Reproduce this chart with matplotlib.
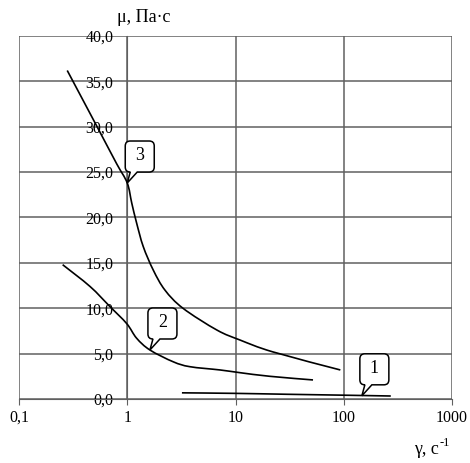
import matplotlib
matplotlib.use("Agg")
import matplotlib.pyplot as plt
import numpy as np
from matplotlib.path import Path
from matplotlib.patches import PathPatch
from matplotlib.transforms import Affine2D

plt.rcParams['font.family'] = ['Liberation Serif', 'DejaVu Serif']

# curve 1
g1 = [3.2, 10, 30, 100, 272]
mu1 = [0.68, 0.62, 0.52, 0.42, 0.33]
# curve 2
g2 = [0.253, 0.453, 0.69, 0.99, 1.22, 1.62, 2.66, 3.79, 7.2, 11, 20.8, 52]
mu2 = [14.8, 12.4, 10.2, 8.3, 6.7, 5.4, 4.1, 3.56, 3.2, 2.9, 2.5, 2.1]
# curve 3
g3 = [0.279, 0.56, 0.8, 1.0, 1.1, 1.22, 1.405, 1.74, 2.23, 3.27, 6.73, 11, 22, 93]
mu3 = [36.2, 29.4, 25.9, 23.8, 21.6, 19.4, 16.8, 14.2, 12.0, 10.0, 7.6, 6.5, 5.2, 3.2]

labels = ['1', '2', '3']
tips = [(147, 0.35), (1.62, 5.4), (1.0, 23.8)]

xticks = [0.1, 1, 10, 100, 1000]
xticklabels = ['0,1', '1', '10', '100', '1000']
yticks = [0, 5, 10, 15, 20, 25, 30, 35, 40]


def smooth_path(g, m):
    # Excel-like smoothed line: Catmull-Rom bezier in (log x, y)
    p = np.column_stack([np.log10(g), m])
    ext = np.vstack([p[0], p, p[-1]])
    verts = [p[0]]
    codes = [Path.MOVETO]
    for i in range(1, len(ext) - 2):
        p0, p1, p2, p3 = ext[i - 1], ext[i], ext[i + 1], ext[i + 2]
        c1 = p1 + (p2 - p0) / 6
        c2 = p2 - (p3 - p1) / 6
        verts += [c1, c2, p2]
        codes += [Path.CURVE4] * 3
    verts = np.array(verts)
    verts[:, 0] = 10 ** verts[:, 0]
    return Path(verts, codes)


def callout(fig, ax, tip, text):
    px, py = ax.transData.transform(tip)
    x0, y0, w, h, r = -2, 11, 29, 31, 5
    v = [(x0 + r, y0), (3, y0), (0, 0), (10, y0), (x0 + w - r, y0),
         (x0 + w, y0), (x0 + w, y0 + r), (x0 + w, y0 + h - r),
         (x0 + w, y0 + h), (x0 + w - r, y0 + h), (x0 + r, y0 + h),
         (x0, y0 + h), (x0, y0 + h - r), (x0, y0 + r),
         (x0, y0), (x0 + r, y0), (x0 + r, y0)]
    c = [Path.MOVETO, Path.LINETO, Path.LINETO, Path.LINETO, Path.LINETO,
         Path.CURVE3, Path.CURVE3, Path.LINETO,
         Path.CURVE3, Path.CURVE3, Path.LINETO,
         Path.CURVE3, Path.CURVE3, Path.LINETO,
         Path.CURVE3, Path.CURVE3, Path.CLOSEPOLY]
    tr = Affine2D().translate(px, py)
    fig.add_artist(PathPatch(Path(v, c), fc='white', ec='black', lw=1.1,
                             transform=tr, zorder=5))
    fig.text(x0 + w / 2, y0 + h / 2 + 1, text, fontsize=13, ha='center',
             va='center', transform=tr, zorder=6)


fig = plt.figure(figsize=(4.70, 4.63), dpi=100)
ax = fig.add_axes([19/470, 1 - 399/463, 433/470, 363/463])

ax.set_xscale('log')
ax.set_xlim(0.1, 1000)
ax.set_ylim(0, 40)

for g, m in [(g1, mu1), (g2, mu2), (g3, mu3)]:
    ax.add_patch(PathPatch(smooth_path(g, m), fc='none', ec='black', lw=1.2,
                           zorder=3, transform=ax.transData))

ax.set_xticks(xticks)
ax.set_xticklabels(xticklabels)
ax.minorticks_off()
ax.set_yticks(yticks)
ax.set_yticklabels([('%.1f' % v).replace('.', ',') for v in yticks])

ax.grid(True, color='#606060', lw=1.1, zorder=1)
for s in ['top', 'right']:
    ax.spines[s].set_visible(False)
ax.spines['left'].set_position(('data', 1))
ax.spines['left'].set_color('#606060')
ax.spines['bottom'].set_color('#606060')
ax.tick_params(axis='y', length=0, pad=10, labelsize=11.5)
ax.tick_params(axis='x', length=4, pad=4, labelsize=11.5, color='#606060')

for lab, tip in zip(labels, tips):
    callout(fig, ax, tip, lab)

fig.text(144/470, 1 - 18/463, 'μ, Па·с', fontsize=13, ha='center', va='center')
fig.text(439/470, 1 - 449/463, 'γ, с', fontsize=13, ha='right', va='center')
fig.text(440/470, 1 - 443/463, '-1', fontsize=9, ha='left', va='center')

fig.savefig('out.png', dpi=100)
